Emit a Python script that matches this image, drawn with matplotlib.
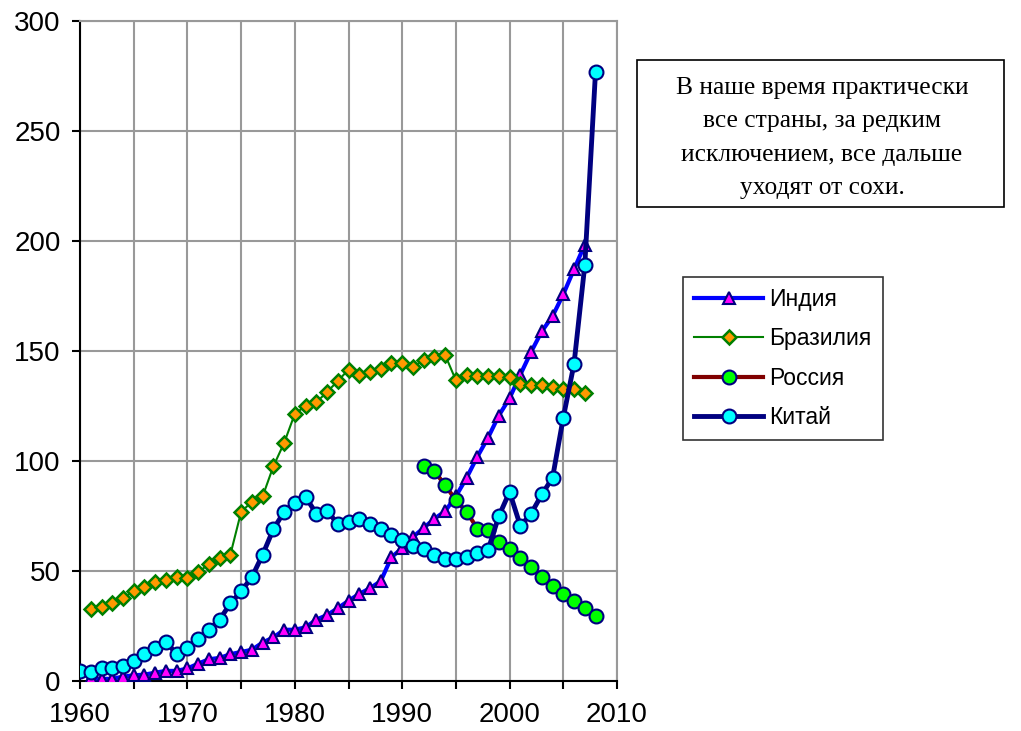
import matplotlib
matplotlib.use('Agg')
import matplotlib.pyplot as plt
from matplotlib.patches import Rectangle
from matplotlib.ticker import MultipleLocator

# Data
years_india = list(range(1961, 2008))
india = [1.2, 1.0, 1.0, 2.0, 2.6, 2.9, 3.8, 4.6, 4.6, 5.7,
         7.9, 9.9, 10.5, 12.2, 13.2, 14.2, 17.5, 19.8, 23.3, 23.3,
         24.4, 27.9, 30.0, 33.1, 36.5, 39.6, 42.2, 45.4, 56.3, 60.4,
         65.5, 69.6, 73.8, 77.2, 84.0, 92.4, 102.0, 110.7, 120.7, 128.6,
         139.3, 149.6, 159.0, 165.9, 175.8, 187.2, 198.4]

years_brazil = list(range(1961, 2008))
brazil = [32.7, 33.8, 35.5, 37.8, 40.8, 42.9, 44.9, 45.8, 47.3, 46.9,
          49.5, 53.1, 56.0, 57.5, 76.9, 81.5, 83.9, 97.6, 108.2, 121.5,
          125.0, 126.7, 131.4, 136.4, 141.6, 139.0, 140.4, 142.0, 144.5, 144.7,
          142.6, 146.1, 147.2, 148.2, 136.7, 139.3, 138.8, 138.8, 138.8, 138.2,
          135.0, 134.4, 134.4, 133.7, 132.9, 132.9, 130.9]

years_russia = list(range(1992, 2009))
russia = [97.9, 95.4, 89.0, 82.2, 76.9, 69.3, 68.5, 63.2, 60.1, 55.9,
          51.8, 47.2, 43.1, 39.6, 36.5, 33.1, 29.7]

years_china = list(range(1960, 2009))
china = [4.6, 4.3, 5.7, 5.7, 6.8, 9.1, 12.2, 14.8, 17.8, 12.2,
         14.8, 19.0, 23.3, 27.9, 35.3, 40.8, 47.2, 57.4, 69.0, 76.9,
         81.0, 83.7, 76.1, 77.2, 71.6, 72.5, 73.8, 71.6, 69.3, 66.2,
         63.9, 61.6, 59.8, 57.4, 55.3, 55.3, 56.3, 58.2, 59.7, 75.0,
         86.0, 70.5, 76.1, 84.8, 92.4, 119.8, 144.2, 189.0, 277.0]

labels = ['Индия', 'Бразилия', 'Россия', 'Китай']
note = ('В наше время практически\nвсе страны, за редким\n'
        'исключением, все дальше\nуходят от сохи.')

navy = '#000080'
grid_gray = '#999999'

fig = plt.figure(figsize=(10.21, 7.31), dpi=100)
ax = fig.add_axes([0.0784, 0.0684, 0.5259, 0.9026])

# Series, drawn in legend order
ax.plot(years_india, india, color='#0000ff', lw=3, marker='^', ms=9,
        mfc='#ff00ff', mec=navy, mew=1.5, label=labels[0], zorder=3)
ax.plot(years_brazil, brazil, color='#008000', lw=1.5, marker='D', ms=7.5,
        mfc='#ff9900', mec='#008000', mew=1.8, label=labels[1], zorder=4)
ax.plot(years_russia, russia, color='#800000', lw=3, marker='o', ms=10,
        mfc='#00ff00', mec=navy, mew=1.5, label=labels[2], zorder=5)
ax.plot(years_china, china, color=navy, lw=3.5, marker='o', ms=10,
        mfc='#00ffff', mec=navy, mew=1.5, label=labels[3], zorder=6)

# Axes styling
ax.set_xlim(1960, 2010)
ax.set_ylim(0, 300)
ax.xaxis.set_major_locator(MultipleLocator(10))
ax.xaxis.set_minor_locator(MultipleLocator(5))
ax.yaxis.set_major_locator(MultipleLocator(50))
ax.grid(True, which='both', axis='x', color=grid_gray, lw=1.5)
ax.grid(True, which='major', axis='y', color=grid_gray, lw=1.5)
ax.set_axisbelow(True)
for side in ['top', 'right']:
    ax.spines[side].set_color(grid_gray)
    ax.spines[side].set_linewidth(1.5)
for side in ['left', 'bottom']:
    ax.spines[side].set_color('black')
    ax.spines[side].set_linewidth(1.5)
ax.tick_params(axis='both', which='both', direction='out', length=6,
               width=1.5, colors='black', labelsize=20)
ax.tick_params(axis='y', which='major', pad=8)
ax.tick_params(axis='x', which='major', pad=9)
for lab in ax.get_xticklabels() + ax.get_yticklabels():
    lab.set_fontfamily('Liberation Sans')

# Legend
leg = fig.legend(loc='upper left', bbox_to_anchor=(683 / 1021, 1 - 277 / 731),
                 frameon=True, fancybox=False, handlelength=3.0,
                 handletextpad=0.25, borderpad=0.5, labelspacing=0.7,
                 borderaxespad=0,
                 prop={'family': 'Liberation Sans', 'size': 16.5})
leg.get_frame().set_edgecolor('black')
leg.get_frame().set_linewidth(1.2)

# Note box
fig.patches.append(Rectangle((637 / 1021, 1 - 207 / 731), 367 / 1021,
                             147 / 731, transform=fig.transFigure,
                             facecolor='white', edgecolor='black', lw=1.2))
fig.text(822 / 1021, 1 - 138 / 731, note, ha='center', va='center',
         family='Liberation Serif', fontsize=18.4, linespacing=1.65)

fig.savefig('out.png', dpi=100)
